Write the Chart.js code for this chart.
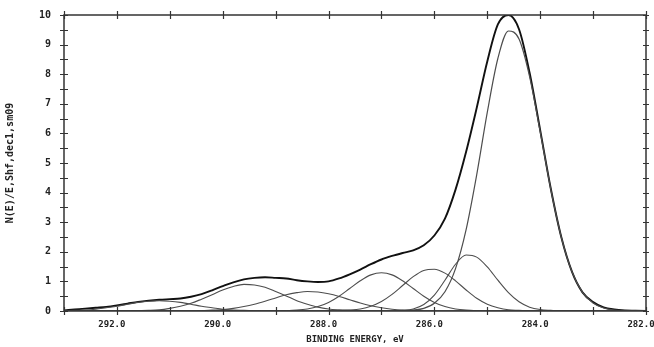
<!DOCTYPE html>
<html>
<head>
<meta charset="utf-8">
<script src="https://cdn.jsdelivr.net/npm/chart.js@4.4.0/dist/chart.umd.min.js"></script>
<style>
    html, body { margin: 0; padding: 0; background: #fff; }
    #wrap { width: 654px; height: 347px; }
</style>
</head>
<body>
<div id="wrap"><canvas id="xps"></canvas></div>
<script>
// binding energy grid (eV), read every 0.2 eV
var energy = [293.0, 292.8, 292.6, 292.4, 292.2, 292.0, 291.8, 291.6, 291.4, 291.2,
              291.0, 290.8, 290.6, 290.4, 290.2, 290.0, 289.8, 289.6, 289.4, 289.2,
              289.0, 288.8, 288.6, 288.4, 288.2, 288.0, 287.8, 287.6, 287.4, 287.2,
              287.0, 286.8, 286.6, 286.4, 286.2, 286.0, 285.8, 285.6, 285.4, 285.2,
              285.0, 284.8, 284.6, 284.4, 284.2, 284.0, 283.8, 283.6, 283.4, 283.2,
              283.0, 282.8, 282.6, 282.4, 282.2, 282.0];

// measured envelope
var envelope = [0.02, 0.05, 0.08, 0.11, 0.14, 0.19, 0.25, 0.31, 0.35, 0.38,
                0.40, 0.42, 0.48, 0.57, 0.70, 0.84, 0.97, 1.07, 1.12, 1.14,
                1.12, 1.10, 1.04, 1.00, 0.98, 1.00, 1.10, 1.24, 1.40, 1.58,
                1.74, 1.86, 1.96, 2.05, 2.22, 2.55, 3.12, 4.10, 5.38, 6.86,
                8.43, 9.68, 10.0, 9.52, 8.05, 6.11, 4.14, 2.49, 1.33, 0.63,
                0.30, 0.12, 0.05, 0.02, 0.01, 0.00];

// fitted components
var peak291 = [0.01, 0.02, 0.03, 0.06, 0.11, 0.16, 0.23, 0.29, 0.33, 0.35,
               0.33, 0.29, 0.23, 0.16, 0.11, 0.06, 0.03, 0.02, 0.01, 0,
               0, 0, 0, 0, 0, 0, 0, 0, 0, 0,
               0, 0, 0, 0, 0, 0, 0, 0, 0, 0,
               0, 0, 0, 0, 0, 0, 0, 0, 0, 0,
               0, 0, 0, 0, 0, 0];
var peak2895 = [0, 0, 0, 0, 0, 0, 0, 0.01, 0.02, 0.04,
                0.09, 0.16, 0.26, 0.40, 0.55, 0.71, 0.83, 0.90, 0.88, 0.80,
                0.66, 0.51, 0.35, 0.23, 0.13, 0.07, 0.04, 0.02, 0.01, 0,
                0, 0, 0, 0, 0, 0, 0, 0, 0, 0,
                0, 0, 0, 0, 0, 0, 0, 0, 0, 0,
                0, 0, 0, 0, 0, 0];
var peak2884 = [0, 0, 0, 0, 0, 0, 0, 0, 0, 0,
                0, 0, 0, 0.01, 0.03, 0.05, 0.09, 0.15, 0.23, 0.33,
                0.44, 0.55, 0.62, 0.66, 0.64, 0.58, 0.49, 0.38, 0.27, 0.18,
                0.11, 0.06, 0.03, 0.02, 0.01, 0, 0, 0, 0, 0,
                0, 0, 0, 0, 0, 0, 0, 0, 0, 0,
                0, 0, 0, 0, 0, 0];
var peak2870 = [0, 0, 0, 0, 0, 0, 0, 0, 0, 0,
                0, 0, 0, 0, 0, 0, 0, 0, 0, 0,
                0, 0.01, 0.03, 0.07, 0.15, 0.29, 0.50, 0.76, 1.02, 1.22,
                1.29, 1.22, 1.02, 0.76, 0.50, 0.29, 0.15, 0.07, 0.03, 0.01,
                0, 0, 0, 0, 0, 0, 0, 0, 0, 0,
                0, 0, 0, 0, 0, 0];
var peak2860 = [0, 0, 0, 0, 0, 0, 0, 0, 0, 0,
                0, 0, 0, 0, 0, 0, 0, 0, 0, 0,
                0, 0, 0, 0, 0, 0, 0.01, 0.03, 0.07, 0.16,
                0.32, 0.56, 0.86, 1.16, 1.37, 1.41, 1.28, 1.02, 0.71, 0.43,
                0.23, 0.11, 0.04, 0.02, 0, 0, 0, 0, 0, 0,
                0, 0, 0, 0, 0, 0];
var peak2853 = [0, 0, 0, 0, 0, 0, 0, 0, 0, 0,
                0, 0, 0, 0, 0, 0, 0, 0, 0, 0,
                0, 0, 0, 0, 0, 0, 0, 0, 0, 0,
                0, 0, 0.02, 0.07, 0.22, 0.54, 1.04, 1.58, 1.89, 1.82,
                1.49, 1.04, 0.62, 0.31, 0.13, 0.05, 0.02, 0, 0, 0,
                0, 0, 0, 0, 0, 0];
var peak2845 = [0, 0, 0, 0, 0, 0, 0, 0, 0, 0,
                0, 0, 0, 0, 0, 0, 0, 0, 0, 0,
                0, 0, 0, 0, 0, 0, 0, 0, 0, 0,
                0, 0, 0.01, 0.03, 0.09, 0.26, 0.65, 1.43, 2.75, 4.60,
                6.71, 8.53, 9.46, 9.19, 7.92, 6.06, 4.12, 2.49, 1.33, 0.63,
                0.27, 0.10, 0.03, 0.01, 0, 0];

var xLabels = [292, 290, 288, 286, 284, 282];
var yLabels = [0, 1, 2, 3, 4, 5, 6, 7, 8, 9, 10];

function pts(values) {
    return energy.map(function (e, i) { return { x: e, y: values[i] }; });
}

function curve(values, color, width) {
    return {
        data: pts(values),
        borderColor: color,
        borderWidth: width,
        pointRadius: 0,
        fill: false,
        cubicInterpolationMode: 'monotone'
    };
}

// frame plus ticks that cross the axis lines on all four sides
var frameTicks = {
    id: 'frameTicks',
    afterDraw: function (chart) {
        var ctx = chart.ctx, a = chart.chartArea;
        var sx = chart.scales.x, sy = chart.scales.y;
        ctx.save();
        ctx.strokeStyle = '#333';
        ctx.lineWidth = 1.5;
        ctx.strokeRect(a.left, a.top, a.right - a.left, a.bottom - a.top);
        ctx.lineWidth = 1.2;
        ctx.beginPath();
        sx.ticks.forEach(function (t) {
            var px = Math.round(sx.getPixelForValue(t.value)) + 0.5;
            ctx.moveTo(px, a.bottom - 4); ctx.lineTo(px, a.bottom + 4);
            ctx.moveTo(px, a.top - 4); ctx.lineTo(px, a.top + 4);
        });
        sy.ticks.forEach(function (t) {
            var py = Math.round(sy.getPixelForValue(t.value)) + 0.5;
            ctx.moveTo(a.left - 4, py); ctx.lineTo(a.left + 4, py);
            ctx.moveTo(a.right - 3, py); ctx.lineTo(a.right + 3, py);
        });
        ctx.stroke();
        ctx.restore();
    }
};

var ctx = document.getElementById('xps').getContext('2d');

var graphic = new Chart(ctx, {
    type: 'line',
    data: {
        datasets: [
            curve(peak291, '#4d4d4d', 1.1),
            curve(peak2895, '#4d4d4d', 1.1),
            curve(peak2884, '#4d4d4d', 1.1),
            curve(peak2870, '#4d4d4d', 1.1),
            curve(peak2860, '#4d4d4d', 1.1),
            curve(peak2853, '#4d4d4d', 1.1),
            curve(peak2845, '#4d4d4d', 1.2),
            curve(envelope, '#111', 1.9)
        ]
    },
    options: {
        responsive: true,
        maintainAspectRatio: false,
        animation: false,
        layout: { padding: { top: 15, right: 8, bottom: 0, left: 0 } },
        plugins: {
            legend: { display: false },
            tooltip: { enabled: false }
        },
        scales: {
            x: {
                type: 'linear',
                reverse: true,
                min: 282,
                max: 293,
                border: { display: false },
                grid: { display: false, drawTicks: false },
                ticks: {
                    stepSize: 1,
                    autoSkip: false,
                    maxRotation: 0,
                    padding: 8,
                    labelOffset: -5,
                    color: '#222',
                    font: { family: "'DejaVu Sans Mono', monospace", size: 9, weight: 'bold' },
                    callback: function (v) {
                        return xLabels.indexOf(v) >= 0 ? v.toFixed(1) : '';
                    }
                },
                title: {
                    display: true,
                    text: 'BINDING ENERGY, eV',
                    color: '#222',
                    padding: { top: 0, bottom: 2 },
                    font: { family: "'DejaVu Sans Mono', monospace", size: 9, weight: 'bold' }
                },
                afterFit: function (s) {
                    s.height = 36;
                    s.paddingLeft = 0;
                    s.paddingRight = 0;
                }
            },
            y: {
                min: 0,
                max: 10,
                border: { display: false },
                grid: { display: false, drawTicks: false },
                ticks: {
                    stepSize: 0.5,
                    autoSkip: false,
                    padding: 13,
                    color: '#222',
                    font: { family: "'DejaVu Sans Mono', monospace", size: 10, weight: 'bold' },
                    callback: function (v) {
                        return yLabels.indexOf(v) >= 0 ? String(v) : '';
                    }
                },
                title: {
                    display: true,
                    text: 'N(E)/E,Shf,dec1,sm09',
                    color: '#222',
                    padding: { top: 4, bottom: 0 },
                    font: { family: "'DejaVu Sans Mono', monospace", size: 10, weight: 'bold' }
                },
                afterFit: function (s) {
                    s.width = 64;
                    s.paddingTop = 0;
                    s.paddingBottom = 0;
                }
            }
        }
    },
    plugins: [frameTicks]
});
</script>
</body>
</html>
